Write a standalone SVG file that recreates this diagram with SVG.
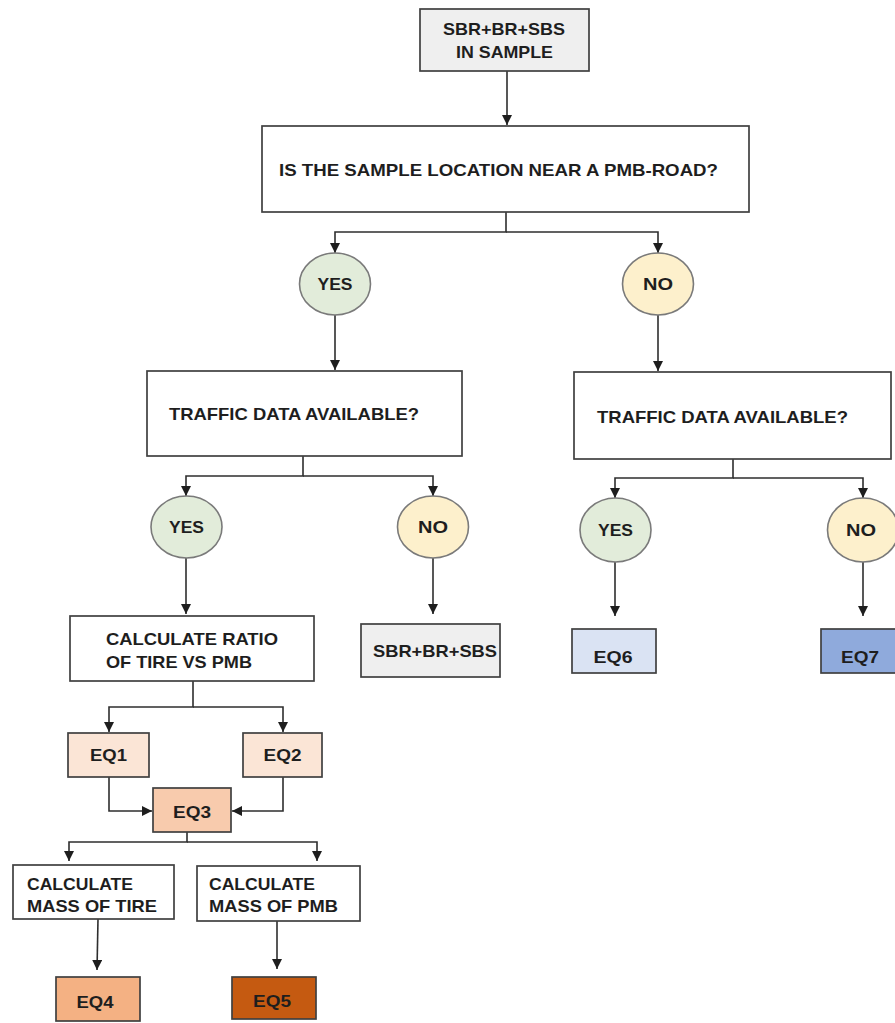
<svg xmlns="http://www.w3.org/2000/svg" width="895" height="1023" viewBox="0 0 895 1023">
<style>
.box{stroke:#404040;stroke-width:1.7}
.ell{stroke:#7a7a7a;stroke-width:1.6}
.t{font-family:"Liberation Sans",Arial,sans-serif;font-weight:bold;font-size:17px;fill:#1e1e1e}
.c{text-anchor:middle}
.con path{fill:none;stroke:#2e2e2e;stroke-width:1.6}
</style>
<defs>
<marker id="arr" viewBox="0 0 10 10" refX="10" refY="5" markerWidth="10" markerHeight="10" markerUnits="userSpaceOnUse" orient="auto">
<path d="M0,0 L10,5 L0,10 z" fill="#1e1e1e"/>
</marker>
</defs>
<rect width="895" height="1023" fill="#ffffff"/>

<g class="con">
<path d="M507,71 V125" marker-end="url(#arr)"/>
<path d="M506,212 V232 H335 V253" marker-end="url(#arr)"/>
<path d="M506,232 H658 V253" marker-end="url(#arr)"/>
<path d="M335,315 V370" marker-end="url(#arr)"/>
<path d="M658,315 V371" marker-end="url(#arr)"/>
<path d="M303,456 V476 H186 V496" marker-end="url(#arr)"/>
<path d="M303,476 H433 V496" marker-end="url(#arr)"/>
<path d="M733,459 V478 H615 V498" marker-end="url(#arr)"/>
<path d="M733,478 H863 V498" marker-end="url(#arr)"/>
<path d="M186,558 V614" marker-end="url(#arr)"/>
<path d="M433,558 V614" marker-end="url(#arr)"/>
<path d="M615,562 V616" marker-end="url(#arr)"/>
<path d="M863,562 V616" marker-end="url(#arr)"/>
<path d="M193,681 V707 H109 V732" marker-end="url(#arr)"/>
<path d="M193,707 H283 V732" marker-end="url(#arr)"/>
<path d="M109,777 V811 H152" marker-end="url(#arr)"/>
<path d="M283,777 V811 H232" marker-end="url(#arr)"/>
<path d="M187,832 V842 H69 V861" marker-end="url(#arr)"/>
<path d="M187,842 H317 V861" marker-end="url(#arr)"/>
<path d="M98,919 L97,970" marker-end="url(#arr)"/>
<path d="M277,921 V969" marker-end="url(#arr)"/>
</g>

<g id="start">
<rect class="box" x="420" y="9" width="169" height="62" fill="#efefef"/>
<text class="t c" x="504" y="35" textLength="122" lengthAdjust="spacingAndGlyphs">SBR+BR+SBS</text>
<text class="t c" x="504.5" y="58" textLength="97" lengthAdjust="spacingAndGlyphs">IN SAMPLE</text>
</g>

<g id="q-pmb-road">
<rect class="box" x="262" y="126" width="487" height="86" fill="#ffffff"/>
<text class="t" x="279" y="176" textLength="439" lengthAdjust="spacingAndGlyphs">IS THE SAMPLE LOCATION NEAR A PMB-ROAD?</text>
</g>

<g id="yes1">
<ellipse class="ell" cx="335" cy="284" rx="35.5" ry="31" fill="#e2ecda"/>
<text class="t c" x="335" y="290" textLength="35" lengthAdjust="spacingAndGlyphs">YES</text>
</g>
<g id="no1">
<ellipse class="ell" cx="658" cy="284" rx="35.5" ry="31" fill="#fdf0cc"/>
<text class="t c" x="658" y="290" textLength="30" lengthAdjust="spacingAndGlyphs">NO</text>
</g>

<g id="traffic-left">
<rect class="box" x="147" y="371" width="315" height="85" fill="#ffffff"/>
<text class="t" x="169" y="420" textLength="250" lengthAdjust="spacingAndGlyphs">TRAFFIC DATA AVAILABLE?</text>
</g>
<g id="traffic-right">
<rect class="box" x="574" y="372" width="317" height="87" fill="#ffffff"/>
<text class="t" x="597" y="423" textLength="251" lengthAdjust="spacingAndGlyphs">TRAFFIC DATA AVAILABLE?</text>
</g>

<g id="yes2">
<ellipse class="ell" cx="186.5" cy="527" rx="35.5" ry="31" fill="#e2ecda"/>
<text class="t c" x="186.5" y="533" textLength="35" lengthAdjust="spacingAndGlyphs">YES</text>
</g>
<g id="no2">
<ellipse class="ell" cx="433" cy="527" rx="35.5" ry="31" fill="#fdf0cc"/>
<text class="t c" x="433" y="533" textLength="30" lengthAdjust="spacingAndGlyphs">NO</text>
</g>
<g id="yes3">
<ellipse class="ell" cx="615.5" cy="530" rx="35.5" ry="32" fill="#e2ecda"/>
<text class="t c" x="615.5" y="536" textLength="35" lengthAdjust="spacingAndGlyphs">YES</text>
</g>
<g id="no3">
<ellipse class="ell" cx="863" cy="530" rx="35.5" ry="32" fill="#fdf0cc"/>
<text class="t c" x="861" y="536" textLength="30" lengthAdjust="spacingAndGlyphs">NO</text>
</g>

<g id="calc-ratio">
<rect class="box" x="70" y="616" width="244" height="65" fill="#ffffff"/>
<text class="t" x="106" y="645" textLength="172" lengthAdjust="spacingAndGlyphs">CALCULATE RATIO</text>
<text class="t" x="106" y="668" textLength="146" lengthAdjust="spacingAndGlyphs">OF TIRE VS PMB</text>
</g>

<g id="sbr-result">
<rect class="box" x="361" y="624" width="139" height="53" fill="#efefef"/>
<text class="t c" x="435" y="657" textLength="124" lengthAdjust="spacingAndGlyphs">SBR+BR+SBS</text>
</g>

<g id="eq6">
<rect class="box" x="572" y="629" width="84" height="44" fill="#dae3f3"/>
<text class="t c" x="613" y="663" textLength="39" lengthAdjust="spacingAndGlyphs">EQ6</text>
</g>
<g id="eq7">
<rect class="box" x="821" y="629" width="80" height="44" fill="#8faadc"/>
<text class="t c" x="860" y="663" textLength="38" lengthAdjust="spacingAndGlyphs">EQ7</text>
</g>

<g id="eq1">
<rect class="box" x="68" y="733" width="81" height="44" fill="#fbe5d6"/>
<text class="t c" x="108.5" y="761" textLength="37" lengthAdjust="spacingAndGlyphs">EQ1</text>
</g>
<g id="eq2">
<rect class="box" x="243" y="733" width="79" height="44" fill="#fbe5d6"/>
<text class="t c" x="282.5" y="761" textLength="38" lengthAdjust="spacingAndGlyphs">EQ2</text>
</g>
<g id="eq3">
<rect class="box" x="153" y="788" width="78" height="44" fill="#f8cbad"/>
<text class="t c" x="192" y="818" textLength="38" lengthAdjust="spacingAndGlyphs">EQ3</text>
</g>

<g id="mass-tire">
<rect class="box" x="13" y="865" width="161" height="54" fill="#ffffff"/>
<text class="t" x="27" y="890" textLength="106" lengthAdjust="spacingAndGlyphs">CALCULATE</text>
<text class="t" x="27" y="912" textLength="130" lengthAdjust="spacingAndGlyphs">MASS OF TIRE</text>
</g>
<g id="mass-pmb">
<rect class="box" x="197" y="866" width="163" height="55" fill="#ffffff"/>
<text class="t" x="209" y="890" textLength="106" lengthAdjust="spacingAndGlyphs">CALCULATE</text>
<text class="t" x="209" y="912" textLength="129" lengthAdjust="spacingAndGlyphs">MASS OF PMB</text>
</g>

<g id="eq4">
<rect class="box" x="56" y="977" width="84" height="44" fill="#f4b183"/>
<text class="t c" x="95" y="1008" textLength="37" lengthAdjust="spacingAndGlyphs">EQ4</text>
</g>
<g id="eq5">
<rect class="box" x="232" y="977" width="84" height="42" fill="#c55a11"/>
<text class="t c" x="272" y="1007" textLength="38" lengthAdjust="spacingAndGlyphs">EQ5</text>
</g>
</svg>
